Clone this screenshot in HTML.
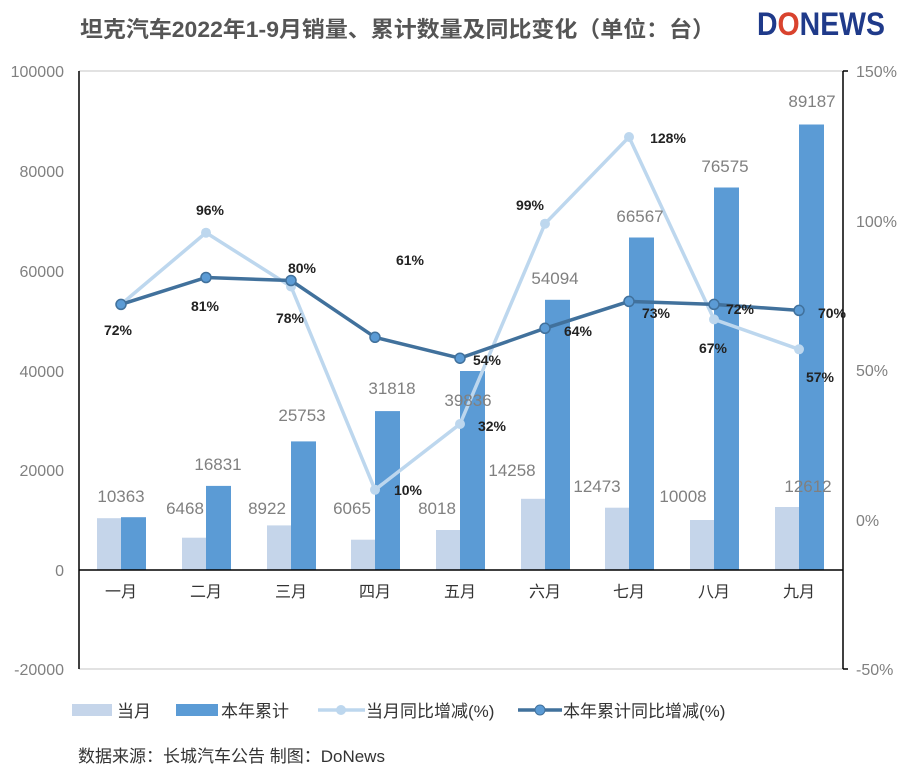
<!DOCTYPE html>
<html><head><meta charset="utf-8"><style>
body{margin:0;background:#fff}
svg{display:block;font-family:"Liberation Sans","Noto Sans CJK SC",sans-serif}
.g{fill:#808080;font-size:17px;text-anchor:middle}
.p{fill:#222;font-size:14px;font-weight:bold;text-anchor:middle}
.ax{fill:#808080;font-size:16px}
.c{fill:#333;font-size:16px;text-anchor:middle}
</style></head><body>
<svg width="900" height="768" viewBox="0 0 900 768">
<text x="80" y="37" font-size="22" font-weight="bold" fill="#555" textLength="635" lengthAdjust="spacingAndGlyphs">坦克汽车2022年1-9月销量、累计数量及同比变化（单位：台）</text>
<text x="757" y="35" font-size="32" font-weight="bold" fill="#1f3a8a" textLength="128" lengthAdjust="spacingAndGlyphs">D<tspan fill="#d9432e">O</tspan>NEWS</text>
<line x1="79" y1="71" x2="843" y2="71" stroke="#d9d9d9" stroke-width="1.5"/>
<line x1="79" y1="669" x2="843" y2="669" stroke="#d9d9d9" stroke-width="1.5"/>
<line x1="79" y1="71" x2="79" y2="669" stroke="#000" stroke-width="1.5"/>
<line x1="843" y1="71" x2="843" y2="669" stroke="#000" stroke-width="1.5"/>
<line x1="843" y1="71" x2="848" y2="71" stroke="#000" stroke-width="1.5"/>
<line x1="843" y1="669" x2="848" y2="669" stroke="#000" stroke-width="1.5"/>
<g class="ax" text-anchor="end">
<text x="64" y="77">100000</text><text x="64" y="177">80000</text><text x="64" y="277">60000</text><text x="64" y="377">40000</text><text x="64" y="476">20000</text><text x="64" y="576">0</text><text x="64" y="675">-20000</text>
</g>
<g class="ax">
<text x="856" y="77">150%</text><text x="856" y="227">100%</text><text x="856" y="376">50%</text><text x="856" y="526">0%</text><text x="856" y="675">-50%</text>
</g>
<g fill="#c5d5ea">
<rect x="97" y="518.2" width="24" height="51.8"/><rect x="182" y="537.7" width="24" height="32.3"/><rect x="267" y="525.4" width="24" height="44.6"/><rect x="351" y="539.7" width="24" height="30.3"/><rect x="436" y="530" width="24" height="40"/><rect x="521" y="498.8" width="24" height="71.2"/><rect x="605" y="507.7" width="24" height="62.3"/><rect x="690" y="520" width="24" height="50"/><rect x="775" y="507" width="24" height="63"/>
</g>
<g fill="#5b9bd5">
<rect x="121" y="517.2" width="25" height="52.8"/><rect x="206" y="485.9" width="25" height="84.1"/><rect x="291" y="441.4" width="25" height="128.6"/><rect x="375" y="411.1" width="25" height="158.9"/><rect x="460" y="371" width="25" height="199"/><rect x="545" y="299.8" width="25" height="270.2"/><rect x="629" y="237.5" width="25" height="332.5"/><rect x="714" y="187.5" width="25" height="382.5"/><rect x="799" y="124.5" width="25" height="445.5"/>
</g>
<line x1="79" y1="570" x2="843" y2="570" stroke="#000" stroke-width="1.5"/>
<g class="c">
<text x="121" y="597">一月</text><text x="206" y="597">二月</text><text x="291" y="597">三月</text><text x="375" y="597">四月</text><text x="460" y="597">五月</text><text x="545" y="597">六月</text><text x="629" y="597">七月</text><text x="714" y="597">八月</text><text x="799" y="597">九月</text>
</g>
<polyline fill="none" stroke="#bdd7ee" stroke-width="3.5" points="121,304.4 206,232.7 291,286.5 375,489.8 460,424 545,223.7 629,137 714,319.4 799,349.3"/>
<g fill="#bdd7ee"><circle cx="121" cy="304.4" r="5"/><circle cx="206" cy="232.7" r="5"/><circle cx="291" cy="286.5" r="5"/><circle cx="375" cy="489.8" r="5"/><circle cx="460" cy="424" r="5"/><circle cx="545" cy="223.7" r="5"/><circle cx="629" cy="137" r="5"/><circle cx="714" cy="319.4" r="5"/><circle cx="799" cy="349.3" r="5"/></g>
<polyline fill="none" stroke="#41719c" stroke-width="3.5" points="121,304.4 206,277.5 291,280.5 375,337.3 460,358.2 545,328.3 629,301.4 714,304.4 799,310.4"/>
<g fill="#5b9bd5" stroke="#41719c" stroke-width="1.5"><circle cx="121" cy="304.4" r="5"/><circle cx="206" cy="277.5" r="5"/><circle cx="291" cy="280.5" r="5"/><circle cx="375" cy="337.3" r="5"/><circle cx="460" cy="358.2" r="5"/><circle cx="545" cy="328.3" r="5"/><circle cx="629" cy="301.4" r="5"/><circle cx="714" cy="304.4" r="5"/><circle cx="799" cy="310.4" r="5"/></g>
<g class="g">
<text x="121" y="502">10363</text><text x="185" y="514">6468</text><text x="218" y="470">16831</text><text x="267" y="514">8922</text><text x="302" y="421">25753</text><text x="352" y="514">6065</text><text x="392" y="394">31818</text><text x="437" y="514">8018</text><text x="468" y="406">39836</text><text x="512" y="476">14258</text><text x="555" y="284">54094</text><text x="597" y="492">12473</text><text x="640" y="222">66567</text><text x="683" y="502">10008</text><text x="725" y="172">76575</text><text x="808" y="492">12612</text><text x="812" y="107">89187</text>
</g>
<g class="p">
<text x="118" y="335">72%</text><text x="210" y="215">96%</text><text x="290" y="323">78%</text><text x="408" y="495">10%</text><text x="492" y="431">32%</text><text x="530" y="210">99%</text><text x="668" y="143">128%</text><text x="713" y="353">67%</text><text x="820" y="382">57%</text>
<text x="205" y="311">81%</text><text x="302" y="273">80%</text><text x="410" y="265">61%</text><text x="487" y="365">54%</text><text x="578" y="336">64%</text><text x="656" y="318">73%</text><text x="740" y="314">72%</text><text x="832" y="318">70%</text>
</g>
<rect x="72" y="704" width="40" height="12" fill="#c5d5ea"/><text x="117" y="717" font-size="17" fill="#333">当月</text>
<rect x="176" y="704" width="42" height="12" fill="#5b9bd5"/><text x="221" y="717" font-size="17" fill="#333">本年累计</text>
<line x1="318" y1="710" x2="365" y2="710" stroke="#bdd7ee" stroke-width="3.5"/><circle cx="341" cy="710" r="5" fill="#bdd7ee"/><text x="366" y="717" font-size="17" fill="#333">当月同比增减(%)</text>
<line x1="518" y1="710" x2="562" y2="710" stroke="#41719c" stroke-width="3.5"/><circle cx="540" cy="710" r="5" fill="#5b9bd5" stroke="#41719c"/><text x="563" y="717" font-size="17" fill="#333">本年累计同比增减(%)</text>
<text x="78" y="762" font-size="17" fill="#333">数据来源：长城汽车公告  制图：DoNews</text>
</svg>
</body></html>
